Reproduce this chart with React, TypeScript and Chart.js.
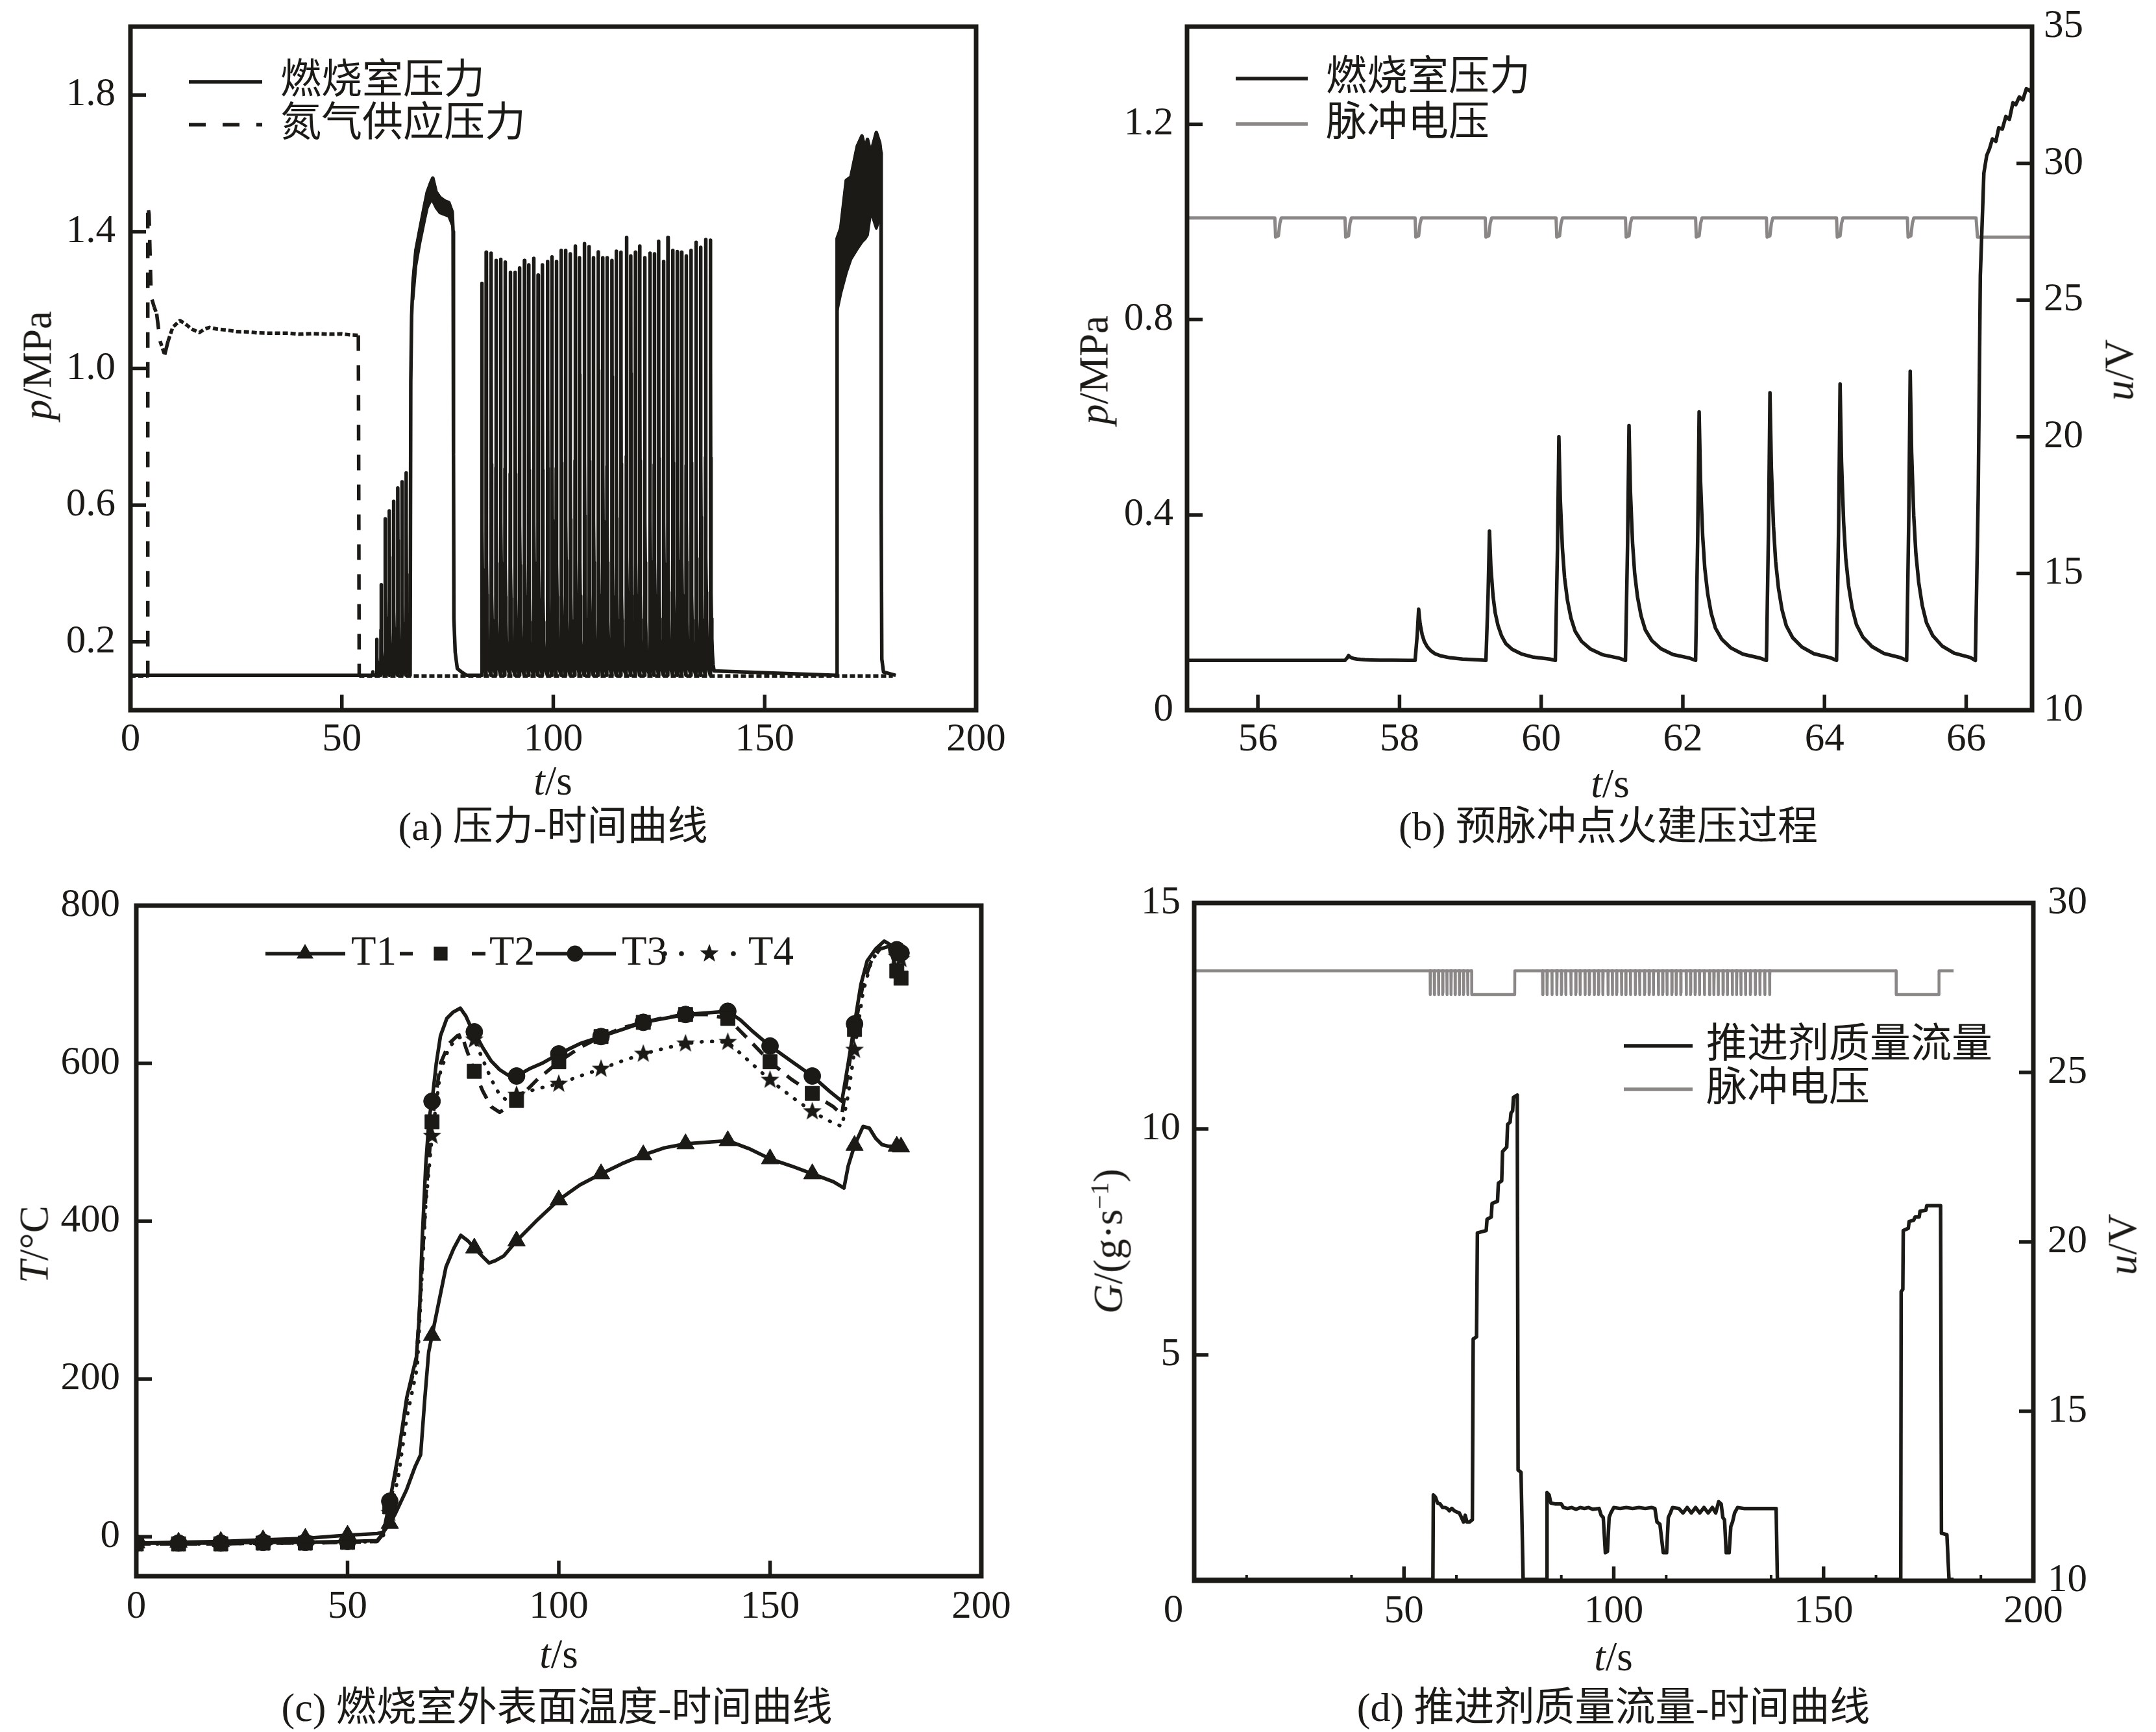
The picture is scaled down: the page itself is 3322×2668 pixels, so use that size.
import React, { useEffect, useRef } from 'react';
import { Chart, registerables } from 'chart.js';

Chart.register(...registerables);

const FONT = "'Liberation Serif', 'Times New Roman', 'Noto Sans CJK SC', serif";
const INK = '#1c1a17';
const GRAY = '#8b8787';
const LW = 5.5;

// ================= DATA =================
// chamber pressure baseline (MPa)
const BASE_P = 0.102;
// pre-pulse ignition spikes (panel a & b)
const PRE_PULSE_T = [57.28, 58.27, 59.27, 60.25, 61.24, 62.23, 63.23, 64.22, 65.21];
const PRE_PULSE_P = [0.112, 0.207, 0.367, 0.56, 0.583, 0.611, 0.65, 0.668, 0.694];
// spike shape: time offset from peak (s) and fraction of peak rise
const SPIKE_DT = [-0.05, -0.02, 0, 0.02, 0.05, 0.08, 0.12, 0.17, 0.23, 0.32, 0.45, 0.62, 0.85];
const SPIKE_FR = [0, 0.5, 1, 0.72, 0.5, 0.37, 0.27, 0.19, 0.13, 0.085, 0.05, 0.025, 0.01];
// pulsed operation spikes (panel a)
const MAIN_PULSE_T = [83.11, 84.13, 85.3, 86.46, 87.56, 88.59, 89.82, 90.98, 92.01, 93.18, 94.21, 95.37, 96.4, 97.43, 98.66, 99.69, 100.72, 101.88, 102.91, 104.01, 105.17, 106.2, 107.37, 108.47, 109.49, 110.66, 111.69, 112.71, 113.88, 114.91, 116.01, 117.3, 118.33, 119.43, 120.46, 121.63, 122.86, 123.89, 124.92, 126.08, 127.11, 128.28, 129.3, 130.33, 131.43, 132.59, 133.76, 134.86, 136.02, 137.18];
const MAIN_PULSE_P = [1.249, 1.34, 1.337, 1.316, 1.319, 1.311, 1.281, 1.281, 1.294, 1.316, 1.303, 1.322, 1.273, 1.303, 1.313, 1.326, 1.313, 1.345, 1.345, 1.335, 1.358, 1.324, 1.365, 1.356, 1.324, 1.341, 1.324, 1.324, 1.316, 1.343, 1.34, 1.383, 1.329, 1.34, 1.358, 1.324, 1.337, 1.335, 1.372, 1.313, 1.383, 1.345, 1.342, 1.34, 1.329, 1.345, 1.369, 1.354, 1.377, 1.375];
// first continuous burn (panel a)
const A_BURN1_RISE_T = [66.15, 66.3, 66.5];
const A_BURN1_RISE_P = [BASE_P, 0.96, 1.153];
const A_BURN1_T = [66.8, 67.5, 68.5, 69.5, 70.2, 71.0, 71.5, 72.3, 73.2, 74.3, 75.3, 76.1];
const A_BURN1_UP = [1.25, 1.345, 1.41, 1.474, 1.516, 1.543, 1.557, 1.516, 1.5, 1.49, 1.485, 1.458];
const A_BURN1_LO = [1.2, 1.3, 1.37, 1.43, 1.47, 1.49, 1.49, 1.47, 1.455, 1.45, 1.445, 1.42];
const A_BURN1_FALL_T = [76.3, 76.4, 76.5, 76.8, 77.3, 78.4, 79.5];
const A_BURN1_FALL_P = [1.4, 0.75, 0.267, 0.17, 0.122, 0.111, 0.102];
// second continuous burn (panel a)
const A_BURN2_RISE_T = [167.0, 167.1];
const A_BURN2_RISE_P = [BASE_P, 1.17];
const A_BURN2_T = [167.15, 168.0, 169.3, 170.4, 170.9, 171.9, 173.0, 173.8, 174.3, 175.1, 176.4, 177.2, 177.5];
const A_BURN2_UP = [1.38, 1.41, 1.55, 1.56, 1.59, 1.65, 1.68, 1.64, 1.67, 1.63, 1.69, 1.66, 1.63];
const A_BURN2_LO = [1.17, 1.22, 1.28, 1.32, 1.33, 1.35, 1.37, 1.38, 1.39, 1.46, 1.41, 1.44, 1.45];
const A_BURN2_FALL_T = [177.55, 177.7, 178.1, 181.0];
const A_BURN2_FALL_P = [0.6, 0.15, 0.112, 0.102];
// nitrogen supply pressure (panel a)
const N2_T = [0, 4.05, 4.1, 4.4, 4.9, 5.6, 6.2, 7.0, 8.1, 8.9, 10.0, 11.7, 13.0, 14.5, 16.3, 17.5, 18.7, 20.5, 22.8, 25.0, 27.6, 30.0, 33.0, 37.4, 40.0, 43.0, 47.2, 50.0, 52.0, 53.9, 54.1, 180.3];
const N2_P = [0.1, 0.1, 1.48, 1.45, 1.21, 1.18, 1.16, 1.08, 1.04, 1.08, 1.12, 1.14, 1.13, 1.115, 1.105, 1.115, 1.12, 1.115, 1.112, 1.108, 1.107, 1.104, 1.103, 1.103, 1.1, 1.102, 1.1, 1.101, 1.098, 1.097, 0.1, 0.1];
// panel (b) main ignition
const B_BURN_T = [66.13, 66.17, 66.2, 66.25, 66.29, 66.33, 66.37, 66.42, 66.46, 66.51, 66.56, 66.61, 66.66, 66.7, 66.75, 66.8, 66.85, 66.9, 66.95];
const B_BURN_P = [0.102, 0.44, 0.89, 1.1, 1.136, 1.15, 1.17, 1.165, 1.193, 1.19, 1.216, 1.21, 1.244, 1.24, 1.256, 1.25, 1.273, 1.268, 1.28];
// pulse voltage (V)
const V_HIGH = 28;
const PRE_DIP_T = [56.24, 57.23, 58.22, 59.21, 60.21, 61.19, 62.18, 63.18, 64.17, 65.17];
const PULSE_LEAD = 0.05;
const DIP_DT = [0, 0.01, 0.05, 0.07, 0.09];
const DIP_V = [28, 27.3, 27.35, 27.8, 28];
const B_VOLT_END_T = [66.14, 66.16, 67.0];
const B_VOLT_END_V = [28, 27.3, 27.3];
const D_VOLT_MID_T = [66.14, 66.16, 76.4, 76.42, 83.0];
const D_VOLT_MID_V = [28, 27.3, 27.3, 28, 28];
const D_VOLT_END_T = [137.3, 167.3, 167.32, 177.5, 177.52, 181.0];
const D_VOLT_END_V = [28, 28, 27.3, 27.3, 28, 28];
// panel (c) temperatures (°C)
const MARK_T = [0, 10, 20, 30, 40, 50, 60, 70, 80, 90, 100, 110, 120, 130, 140, 150, 160, 170, 180, 181];
const T1_X = [0, 10, 20, 30, 40, 50, 57, 58.5, 60, 61.2, 64, 66, 67.3, 68.3, 69.2, 70, 71.4, 73.3, 75.1, 76.8, 78.5, 80, 82, 83.5, 85, 87, 90, 95, 100, 105, 110, 115, 120, 125, 130, 135, 140, 145, 150, 155, 160, 165, 167.5, 168.5, 170, 172, 173.5, 175, 176.5, 178, 180, 181];
const T1_Y = [-8, -7, -6, -4, -2, 2, 4, 6, 17, 28, 60, 89, 104, 176, 234, 255, 292, 342, 365, 382, 375, 366, 355, 347, 350, 356, 375, 402, 427, 446, 460, 473, 484, 493, 498, 500, 502, 492, 479, 470, 460, 450, 442, 470, 496, 520, 518, 505, 497, 495, 495, 494];
const T2_X = [0, 10, 20, 30, 40, 50, 57, 58.5, 60, 62, 64, 66.3, 67.5, 68.5, 70, 72, 74, 76, 77, 78, 80, 82, 84, 86, 88, 90, 95, 100, 105, 110, 115, 120, 125, 130, 135, 140, 145, 150, 155, 160, 165, 167, 168.5, 170, 172, 174, 176, 178, 179, 180, 181];
const T2_Y = [-9, -9, -9, -8, -8, -7, -6, 4, 38, 100, 172, 225, 330, 430, 526, 600, 625, 635, 637, 620, 590, 565, 545, 538, 545, 553, 580, 602, 620, 634, 645, 652, 658, 662, 662, 657, 630, 602, 580, 562, 545, 535, 590, 643, 700, 730, 745, 748, 735, 717, 708];
const T3_X = [0, 10, 20, 30, 40, 50, 57, 58.5, 60, 62, 64, 66.3, 67, 67.7, 68.5, 69.3, 70, 71, 72, 73.5, 75, 76.7, 78, 79, 80, 82, 84, 86, 88, 90, 93, 96, 100, 105, 110, 115, 120, 125, 130, 135, 140, 143, 146, 150, 155, 160, 164, 167, 168.5, 170, 171.5, 173, 175, 177, 178, 180, 181];
const T3_Y = [-8, -8, -8, -7, -7, -6, -5, 5, 45, 104, 176, 228, 280, 380, 470, 530, 552, 600, 635, 657, 665, 670, 660, 648, 640, 620, 603, 592, 585, 584, 593, 600, 612, 625, 634, 643, 652, 657, 662, 664, 666, 655, 640, 622, 603, 584, 565, 552, 600, 650, 700, 730, 745, 755, 752, 744, 740];
const T4_X = [0, 10, 20, 30, 40, 50, 57, 58.5, 60, 62, 64, 66.5, 67.5, 68.5, 70, 72, 74, 76, 78, 80, 82, 84, 86, 88, 90, 95, 100, 105, 110, 115, 120, 125, 130, 135, 140, 145, 150, 155, 160, 164, 167, 168.5, 170, 172, 174, 176, 178, 180, 181];
const T4_Y = [-9, -9, -9, -8, -8, -7, -6, 2, 30, 75, 150, 215, 320, 420, 508, 590, 620, 632, 635, 630, 605, 580, 560, 552, 560, 568, 574, 584, 593, 603, 612, 619, 625, 628, 627, 603, 579, 558, 539, 527, 520, 560, 617, 690, 730, 745, 748, 735, 732];
// panel (d) propellant mass flow (g/s)
const D_G_T = [0, 56.9, 57.0, 57.5, 58.0, 58.6, 59.2, 59.8, 60.3, 60.8, 61.4, 62.0, 62.6, 63.2, 63.6, 64.2, 64.6, 65.0, 65.6, 66.3, 66.5, 67.3, 67.5, 69.6, 69.8, 70.8, 71.0, 72.3, 72.5, 73.3, 73.5, 74.5, 74.7, 75.3, 75.5, 75.9, 76.1, 77.0, 77.2, 77.9, 78.4, 84.0, 84.1, 84.6, 85.0, 86.0, 87.5, 88.0, 89.0, 90.0, 91.0, 92.0, 93.0, 94.0, 95.0, 96.5, 97.0, 97.5, 98.0, 98.5, 98.9, 99.3, 100.0, 101.5, 103.0, 104.5, 106.0, 107.5, 109.0, 109.8, 110.3, 111.0, 111.8, 112.6, 113.0, 113.5, 114.0, 115.5, 116.5, 117.5, 118.5, 119.5, 120.5, 121.5, 122.5, 123.5, 124.3, 125.0, 125.6, 126.0, 126.4, 126.8, 127.5, 127.9, 128.3, 128.8, 129.5, 131.0, 133.0, 135.0, 137.0, 138.7, 139.0, 168.4, 168.5, 168.9, 169.0, 170.2, 170.4, 171.5, 171.8, 172.8, 173.0, 174.4, 174.6, 177.9, 178.1, 179.4, 179.9, 181.0];
const D_G_V = [0.03, 0.03, 1.9, 1.85, 1.72, 1.7, 1.62, 1.62, 1.6, 1.55, 1.6, 1.55, 1.52, 1.5, 1.42, 1.3, 1.45, 1.3, 1.3, 1.35, 5.35, 5.4, 7.7, 7.75, 8.0, 8.05, 8.35, 8.4, 8.8, 8.85, 9.5, 9.6, 10.1, 10.15, 10.35, 10.4, 10.7, 10.75, 2.45, 2.4, 0.03, 0.03, 1.95, 1.9, 1.72, 1.7, 1.7, 1.62, 1.6, 1.62, 1.58, 1.62, 1.6, 1.62, 1.58, 1.6, 1.45, 1.4, 0.62, 0.65, 1.4, 1.5, 1.62, 1.6, 1.62, 1.6, 1.62, 1.6, 1.62, 1.6, 1.3, 1.25, 0.62, 0.62, 1.4, 1.5, 1.62, 1.6, 1.5, 1.62, 1.5, 1.62, 1.5, 1.62, 1.5, 1.62, 1.5, 1.75, 1.7, 1.4, 1.35, 0.62, 0.62, 1.2, 1.3, 1.5, 1.62, 1.6, 1.6, 1.6, 1.6, 1.6, 0.03, 0.03, 6.4, 6.45, 7.75, 7.8, 7.95, 7.98, 8.05, 8.05, 8.18, 8.2, 8.3, 8.3, 1.05, 1.02, 0.03, 0.03];

// tick values
const A_X_TICKS = [0, 50, 100, 150, 200];
const A_Y_TICKS = [0.2, 0.6, 1.0, 1.4, 1.8];
const B_X_TICKS = [56, 58, 60, 62, 64, 66];
const B_YL_TICKS = [0, 0.4, 0.8, 1.2];
const B_YR_TICKS = [10, 15, 20, 25, 30, 35];
const C_X_TICKS = [0, 50, 100, 150, 200];
const C_Y_TICKS = [0, 200, 400, 600, 800];
const D_X_TICKS = [0, 50, 100, 150, 200];
const D_X_MINOR = [12.5, 37.5, 62.5, 87.5, 112.5, 137.5, 162.5, 187.5];
const D_YL_TICKS = [5, 10, 15];
const D_YR_TICKS = [10, 15, 20, 25, 30];

// ================= helpers =================
type Pt = { x: number; y: number };
const zip = (xs: number[], ys: number[]): Pt[] => xs.map((x, i) => ({ x, y: ys[i] }));

function spikes(times: number[], peaks: number[]): Pt[] {
  const out: Pt[] = [];
  times.forEach((t, i) => {
    SPIKE_DT.forEach((dt, j) => out.push({ x: t + dt, y: BASE_P + (peaks[i] - BASE_P) * SPIKE_FR[j] }));
  });
  return out;
}
function dips(times: number[]): Pt[] {
  const out: Pt[] = [];
  times.forEach((t) => DIP_DT.forEach((dt, j) => out.push({ x: t + dt, y: DIP_V[j] })));
  return out;
}

const PANELS = [
  { x: 0, y: 0, w: 1661, h: 1334 },
  { x: 1661, y: 0, w: 1661, h: 1334 },
  { x: 0, y: 1334, w: 1661, h: 1334 },
  { x: 1661, y: 1334, w: 1661, h: 1334 },
];

const fmtInt = (v: number) => String(v);
const fmtIntNoZero = (v: number) => (v === 0 ? '' : String(v));
const fmt1 = (v: number) => v.toFixed(1);
const fmtB = (v: number) => (v === 0 ? '0' : v.toFixed(1));

function axis(position: string, min: number, max: number, vals: number[], fmt: any, size: number, pad: number) {
  return {
    type: 'linear',
    position,
    min,
    max,
    grid: { display: false, drawTicks: false },
    border: { display: false },
    ticks: {
      font: { family: FONT, size: 61 },
      color: INK,
      padding: pad,
      autoSkip: false,
      maxRotation: 0,
      minRotation: 0,
      callback: (v: number) => fmt(v),
    },
    afterBuildTicks: (s: any) => {
      s.ticks = vals.map((v) => ({ value: v }));
    },
    afterFit: (s: any) => {
      if (position === 'bottom') s.height = size;
      else s.width = size;
      s.paddingTop = 0;
      s.paddingBottom = 0;
      s.paddingLeft = 0;
      s.paddingRight = 0;
    },
  };
}

function framePlugin(tickLen: number, minorX?: number[], minorLen?: number) {
  return {
    id: 'frameTicks',
    afterDraw(chart: any) {
      const ctx = chart.ctx;
      const a = chart.chartArea;
      ctx.save();
      ctx.strokeStyle = INK;
      ctx.lineCap = 'butt';
      ctx.setLineDash([]);
      ctx.lineWidth = 5.5;
      Object.values(chart.scales).forEach((s: any) => {
        s.ticks.forEach((t: any) => {
          const p = s.getPixelForValue(t.value);
          ctx.beginPath();
          if (s.isHorizontal()) {
            if (p <= a.left + 4 || p >= a.right - 4) return;
            ctx.moveTo(p, a.bottom);
            ctx.lineTo(p, a.bottom - tickLen);
          } else {
            if (p <= a.top + 4 || p >= a.bottom - 4) return;
            if (s.position === 'left') {
              ctx.moveTo(a.left, p);
              ctx.lineTo(a.left + tickLen, p);
            } else {
              ctx.moveTo(a.right, p);
              ctx.lineTo(a.right - tickLen, p);
            }
          }
          ctx.stroke();
        });
      });
      if (minorX) {
        const xs = chart.scales.x;
        ctx.lineWidth = 4;
        minorX.forEach((v) => {
          const p = xs.getPixelForValue(v);
          ctx.beginPath();
          ctx.moveTo(p, a.bottom);
          ctx.lineTo(p, a.bottom - (minorLen || 9));
          ctx.stroke();
        });
      }
      ctx.lineWidth = 7;
      ctx.strokeRect(a.left, a.top, a.right - a.left, a.bottom - a.top);
      ctx.restore();
    },
  };
}

function drawMarker(ctx: any, kind: string, x: number, y: number, star: any) {
  ctx.fillStyle = INK;
  ctx.beginPath();
  if (kind === 'triangle') {
    const r = 15;
    for (let k = 0; k < 3; k++) {
      const ang = (k * 2 * Math.PI) / 3;
      const px = x + Math.sin(ang) * r;
      const py = y - Math.cos(ang) * r;
      if (k === 0) ctx.moveTo(px, py);
      else ctx.lineTo(px, py);
    }
    ctx.closePath();
    ctx.fill();
  } else if (kind === 'rect') {
    const s = 15 * Math.SQRT1_2;
    ctx.rect(x - s, y - s, 2 * s, 2 * s);
    ctx.fill();
  } else if (kind === 'circle') {
    ctx.arc(x, y, 12.5, 0, Math.PI * 2);
    ctx.fill();
  } else if (kind === 'star' && star) {
    ctx.drawImage(star, x - star.width / 2, y - star.height / 2);
  }
}

function legendPlugin(items: any[], star?: any) {
  return {
    id: 'customLegend',
    afterDraw(chart: any) {
      const ctx = chart.ctx;
      ctx.save();
      items.forEach((it) => {
        ctx.strokeStyle = it.color;
        ctx.lineWidth = it.width || LW;
        ctx.lineCap = 'butt';
        ctx.setLineDash(it.dash || []);
        (it.segs || []).forEach((sg: number[]) => {
          ctx.beginPath();
          ctx.moveTo(sg[0], it.y);
          ctx.lineTo(sg[1], it.y);
          ctx.stroke();
        });
        ctx.setLineDash([]);
        (it.dots || []).forEach((dx: number) => {
          ctx.beginPath();
          ctx.fillStyle = it.color;
          ctx.arc(dx, it.y, 3.8, 0, Math.PI * 2);
          ctx.fill();
        });
        if (it.marker) drawMarker(ctx, it.marker, it.mx, it.y, star);
        ctx.fillStyle = INK;
        ctx.font = `${it.size || 63}px ${FONT}`;
        ctx.textBaseline = 'middle';
        ctx.textAlign = 'left';
        ctx.fillText(it.label, it.tx, it.y + (it.dy || 0));
      });
      ctx.restore();
    },
  };
}

function baseOptions(padding: any, scales: any) {
  return {
    responsive: false,
    animation: false,
    events: [],
    layout: { padding },
    plugins: { legend: { display: false }, tooltip: { enabled: false } },
    elements: {
      point: { radius: 0, hoverRadius: 0 },
      line: { tension: 0, borderJoinStyle: 'round', borderCapStyle: 'butt' },
    },
    scales,
  };
}

function makeStar(r: number) {
  const c = document.createElement('canvas');
  const size = Math.ceil(r * 2 + 2);
  c.width = size;
  c.height = size;
  const g = c.getContext('2d') as CanvasRenderingContext2D;
  g.fillStyle = INK;
  g.beginPath();
  for (let i = 0; i < 10; i++) {
    const rad = i % 2 === 0 ? r : r * 0.42;
    const ang = -Math.PI / 2 + (i * Math.PI) / 5;
    const px = size / 2 + rad * Math.cos(ang);
    const py = size / 2 + rad * Math.sin(ang);
    if (i === 0) g.moveTo(px, py);
    else g.lineTo(px, py);
  }
  g.closePath();
  g.fill();
  return c;
}

const n2Dash = (ctx: any) => {
  const dx = Math.abs(ctx.p1.x - ctx.p0.x);
  const dy = Math.abs(ctx.p1.y - ctx.p0.y);
  return dy > 3 * dx ? [24, 22] : [8, 4];
};

// ================= charts =================
function buildA(cv: HTMLCanvasElement) {
  const chamber: Pt[] = [
    { x: 0, y: BASE_P },
    { x: 56.9, y: BASE_P },
    ...spikes(PRE_PULSE_T, PRE_PULSE_P),
    ...zip(A_BURN1_RISE_T, A_BURN1_RISE_P),
    ...zip(A_BURN1_T, A_BURN1_UP),
    ...zip(A_BURN1_FALL_T, A_BURN1_FALL_P),
    ...spikes(MAIN_PULSE_T, MAIN_PULSE_P),
    ...zip(A_BURN2_RISE_T, A_BURN2_RISE_P),
    ...zip(A_BURN2_T, A_BURN2_UP),
    ...zip(A_BURN2_FALL_T, A_BURN2_FALL_P),
  ];
  const line = { borderColor: INK, borderWidth: LW, pointRadius: 0, fill: false };
  return new Chart(cv, {
    type: 'line',
    data: {
      datasets: [
        { ...line, label: '燃烧室压力', data: chamber },
        { ...line, label: '氮气供应压力', data: zip(N2_T, N2_P), segment: { borderDash: n2Dash } },
        { ...line, label: 'burn1-up', data: zip(A_BURN1_T, A_BURN1_UP), borderWidth: 4.5 },
        { ...line, label: 'burn1-lo', data: zip(A_BURN1_T, A_BURN1_LO), borderWidth: 4.5, fill: '-1', backgroundColor: INK },
        { ...line, label: 'burn2-up', data: zip(A_BURN2_T, A_BURN2_UP), borderWidth: 4.5 },
        { ...line, label: 'burn2-lo', data: zip(A_BURN2_T, A_BURN2_LO), borderWidth: 4.5, fill: '-1', backgroundColor: INK },
      ],
    } as any,
    options: baseOptions(
      { top: 41, right: 157, left: 0, bottom: 0 },
      {
        x: axis('bottom', 0, 200, A_X_TICKS, fmtInt, 240, 9),
        y: axis('left', 0, 2.0, A_Y_TICKS, fmt1, 201, 23),
      }
    ) as any,
    plugins: [
      framePlugin(24),
      legendPlugin([
        { segs: [[291, 404]], y: 126, color: INK, label: '燃烧室压力', tx: 432 },
        { segs: [[291, 404]], y: 192, color: INK, dash: [26, 26], label: '氮气供应压力', tx: 432 },
      ]),
    ],
  });
}

function buildB(cv: HTMLCanvasElement) {
  const chamber: Pt[] = [{ x: 55, y: BASE_P }, ...spikes(PRE_PULSE_T, PRE_PULSE_P), ...zip(B_BURN_T, B_BURN_P)];
  const volt: Pt[] = [{ x: 55, y: V_HIGH }, ...dips(PRE_DIP_T), ...zip(B_VOLT_END_T, B_VOLT_END_V)];
  return new Chart(cv, {
    type: 'line',
    data: {
      datasets: [
        { label: '燃烧室压力', data: chamber, borderColor: INK, borderWidth: LW, pointRadius: 0, yAxisID: 'y' },
        { label: '脉冲电压', data: volt, borderColor: GRAY, borderWidth: 5, pointRadius: 0, yAxisID: 'y2' },
      ],
    } as any,
    options: baseOptions(
      { top: 41, right: 0, left: 0, bottom: 0 },
      {
        x: axis('bottom', 55, 66.93, B_X_TICKS, fmtInt, 240, 9),
        y: axis('left', 0, 1.4, B_YL_TICKS, fmtB, 168, 21),
        y2: axis('right', 10, 35, B_YR_TICKS, fmtInt, 191, 18),
      }
    ) as any,
    plugins: [
      framePlugin(24),
      legendPlugin([
        { segs: [[243, 354]], y: 121, color: INK, label: '燃烧室压力', tx: 382 },
        { segs: [[243, 354]], y: 191, color: GRAY, label: '脉冲电压', tx: 382 },
      ]),
    ],
  });
}

function buildC(cv: HTMLCanvasElement) {
  const star = makeStar(15);
  const mark = (r: number) => (ctx: any) => (ctx.raw && MARK_T.includes(ctx.raw.x) ? r : 0);
  const common = {
    borderColor: INK,
    borderWidth: LW,
    pointBackgroundColor: INK,
    pointBorderColor: INK,
    pointBorderWidth: 1,
    fill: false,
  };
  return new Chart(cv, {
    type: 'line',
    data: {
      datasets: [
        { ...common, label: 'T1', data: zip(T1_X, T1_Y), pointStyle: 'triangle', pointRadius: mark(15.5) },
        { ...common, label: 'T2', data: zip(T2_X, T2_Y), pointStyle: 'rect', pointRadius: mark(15.5), borderDash: [22, 14] },
        { ...common, label: 'T3', data: zip(T3_X, T3_Y), pointStyle: 'circle', pointRadius: mark(13) },
        { ...common, label: 'T4', data: zip(T4_X, T4_Y), pointStyle: star, pointRadius: mark(14), borderDash: [1, 15], borderCapStyle: 'round' },
      ],
    } as any,
    options: baseOptions(
      { top: 61, right: 149, left: 0, bottom: 0 },
      {
        x: axis('bottom', 0, 200, C_X_TICKS, fmtInt, 240, 11),
        y: axis('left', -50, 800, C_Y_TICKS, fmtInt, 210, 25),
      }
    ) as any,
    plugins: [
      framePlugin(24),
      legendPlugin(
        [
          { segs: [[409, 532]], y: 135, color: INK, marker: 'triangle', mx: 470, label: 'T1', tx: 541 },
          { segs: [[616, 636], [727, 748]], y: 135, color: INK, marker: 'rect', mx: 679, label: 'T2', tx: 754 },
          { segs: [[826, 949]], y: 135, color: INK, marker: 'circle', mx: 886, label: 'T3', tx: 958 },
          { segs: [], dots: [1024, 1050, 1130], y: 135, color: INK, marker: 'star', mx: 1093, label: 'T4', tx: 1153 },
        ],
        star
      ),
    ],
  });
}

function buildD(cv: HTMLCanvasElement) {
  const volt: Pt[] = [
    { x: 0, y: V_HIGH },
    ...dips(PRE_DIP_T),
    ...zip(D_VOLT_MID_T, D_VOLT_MID_V),
    ...dips(MAIN_PULSE_T.map((t) => t - PULSE_LEAD)),
    ...zip(D_VOLT_END_T, D_VOLT_END_V),
  ];
  return new Chart(cv, {
    type: 'line',
    data: {
      datasets: [
        { label: '推进剂质量流量', data: zip(D_G_T, D_G_V), borderColor: INK, borderWidth: LW, pointRadius: 0, yAxisID: 'y' },
        { label: '脉冲电压', data: volt, borderColor: GRAY, borderWidth: 4.5, pointRadius: 0, yAxisID: 'y2' },
      ],
    } as any,
    options: baseOptions(
      { top: 57, right: 0, left: 0, bottom: 0 },
      {
        x: axis('bottom', 0, 200, D_X_TICKS, fmtIntNoZero, 233, 11),
        y: axis('left', 0, 15, D_YL_TICKS, fmtInt, 179, 21),
        y2: axis('right', 10, 30, D_YR_TICKS, fmtInt, 189, 22),
      }
    ) as any,
    plugins: [
      framePlugin(22, D_X_MINOR, 9),
      legendPlugin([
        { segs: [[841, 947]], y: 277, color: INK, label: '推进剂质量流量', tx: 968 },
        { segs: [[841, 947]], y: 344, color: GRAY, label: '脉冲电压', tx: 968 },
      ]),
    ],
  });
}

// ================= text overlay =================
function Label(props: { x: number; y: number; rot?: boolean; size?: number; children: any }) {
  const { x, y, rot, size, children } = props;
  return (
    <div
      style={{
        position: 'absolute',
        left: x,
        top: y,
        transform: `translate(-50%, -50%)${rot ? ' rotate(-90deg)' : ''}`,
        fontFamily: FONT,
        fontSize: size || 63,
        lineHeight: 1,
        color: INK,
        whiteSpace: 'nowrap',
      }}
    >
      {children}
    </div>
  );
}

const supStyle = { fontSize: '0.62em', verticalAlign: '0.55em', lineHeight: 0 } as any;

export default function App() {
  const r0 = useRef<HTMLCanvasElement>(null);
  const r1 = useRef<HTMLCanvasElement>(null);
  const r2 = useRef<HTMLCanvasElement>(null);
  const r3 = useRef<HTMLCanvasElement>(null);
  const refs = [r0, r1, r2, r3];

  useEffect(() => {
    const charts = [
      buildA(r0.current as HTMLCanvasElement),
      buildB(r1.current as HTMLCanvasElement),
      buildC(r2.current as HTMLCanvasElement),
      buildD(r3.current as HTMLCanvasElement),
    ];
    return () => charts.forEach((c) => c.destroy());
  }, []);

  return (
    <div style={{ position: 'absolute', left: 0, top: 0, width: 3322, height: 2668, background: '#ffffff', overflow: 'hidden' }}>
      {PANELS.map((p, i) => (
        <canvas
          key={i}
          ref={refs[i]}
          width={p.w}
          height={p.h}
          style={{ position: 'absolute', left: p.x, top: p.y, width: p.w, height: p.h }}
        />
      ))}
      <Label x={58} y={563} rot><i>p</i>/MPa</Label>
      <Label x={852} y={1203}><i>t</i>/s</Label>
      <Label x={852} y={1273} size={62}>(a) 压力-时间曲线</Label>

      <Label x={1686} y={570} rot><i>p</i>/MPa</Label>
      <Label x={3266} y={570} rot><i>u</i>/V</Label>
      <Label x={2481} y={1207}><i>t</i>/s</Label>
      <Label x={2478} y={1273} size={62}>(b) 预脉冲点火建压过程</Label>

      <Label x={53} y={1917} rot><i>T</i>/°C</Label>
      <Label x={861} y={2548}><i>t</i>/s</Label>
      <Label x={858} y={2630} size={62}>(c) 燃烧室外表面温度-时间曲线</Label>

      <Label x={1708} y={1912} rot><i>G</i>/(g·s<sup style={supStyle}>−1</sup>)</Label>
      <Label x={3271} y={1917} rot><i>u</i>/V</Label>
      <Label x={1808} y={2477} size={61}>0</Label>
      <Label x={2486} y={2552}><i>t</i>/s</Label>
      <Label x={2486} y={2630} size={62}>(d) 推进剂质量流量-时间曲线</Label>
    </div>
  );
}
